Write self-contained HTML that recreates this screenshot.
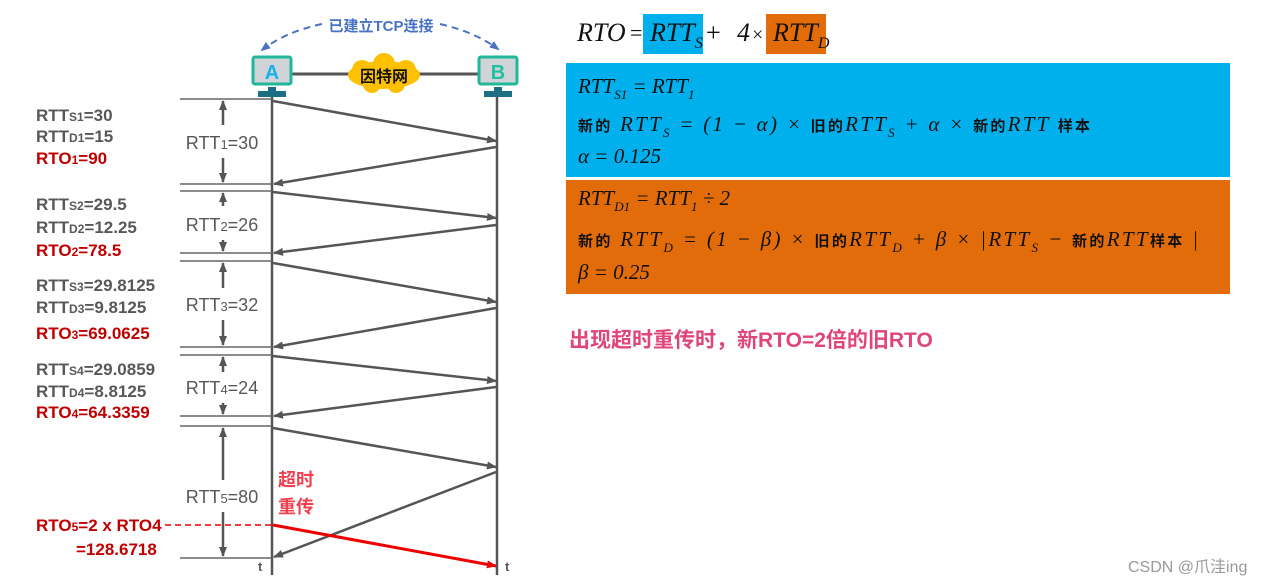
<!DOCTYPE html>
<html><head><meta charset="utf-8"><style>
html,body{margin:0;padding:0;background:#fff;width:1282px;height:586px;overflow:hidden}
svg{display:block}
.l{font-family:"Liberation Sans","Noto Sans CJK SC",sans-serif;font-weight:bold;font-size:17px;fill:#585858}
.r{fill:#c00000}
.m{font-family:"Liberation Sans",sans-serif;font-size:18px;fill:#585858}
.f{font-family:"Liberation Serif",serif;font-style:italic;fill:#111}
.c{font-family:"Liberation Sans","Noto Sans CJK SC",sans-serif;font-weight:bold;fill:#111}
</style></head><body>
<svg width="1282" height="586" viewBox="0 0 1282 586" xmlns="http://www.w3.org/2000/svg">
<defs>
<marker id="ah" markerWidth="10" markerHeight="8" refX="9" refY="4" orient="auto" markerUnits="userSpaceOnUse"><path d="M0,0 L10,4 L0,8 Z" fill="#555"/></marker>
<marker id="ahr" markerWidth="10" markerHeight="8" refX="9" refY="4" orient="auto" markerUnits="userSpaceOnUse"><path d="M0,0 L10,4 L0,8 Z" fill="#e00"/></marker>
<marker id="ab" markerWidth="10" markerHeight="8" refX="8" refY="4" orient="auto" markerUnits="userSpaceOnUse"><path d="M0,0 L10,4 L0,8 Z" fill="#4a72c4"/></marker>
</defs>
<path d="M322,24 Q285,32 262,50" fill="none" stroke="#4a72c4" stroke-width="2" stroke-dasharray="7,5" marker-end="url(#ab)"/>
<path d="M440,24 Q475,32 498,49" fill="none" stroke="#4a72c4" stroke-width="2" stroke-dasharray="7,5" marker-end="url(#ab)"/>
<text x="381" y="31" text-anchor="middle" style="font-family:'Liberation Sans','Noto Sans CJK SC',sans-serif;font-weight:bold;font-size:15px;fill:#4a72c4">已建立TCP连接</text>
<line x1="292" y1="74" x2="478" y2="74" stroke="#555" stroke-width="3"/>
<ellipse cx="384" cy="75" rx="36" ry="14" fill="#ffc000"/>
<circle cx="362" cy="70" r="10" fill="#ffc000"/><circle cx="384" cy="64" r="11" fill="#ffc000"/><circle cx="406" cy="70" r="10" fill="#ffc000"/><circle cx="372" cy="84" r="9" fill="#ffc000"/><circle cx="396" cy="84" r="9" fill="#ffc000"/>
<text x="384" y="82" text-anchor="middle" class="c" style="font-size:16px">因特网</text>
<rect x="253" y="57" width="38" height="27" fill="#d0d4d8" stroke="#20b89a" stroke-width="3" rx="2"/>
<text x="272" y="79" text-anchor="middle" style="font-family:'Liberation Sans',sans-serif;font-weight:bold;font-size:20px;fill:#1ab0f0">A</text>
<rect x="479" y="57" width="38" height="27" fill="#d0d4d8" stroke="#20b89a" stroke-width="3" rx="2"/>
<text x="498" y="79" text-anchor="middle" style="font-family:'Liberation Sans',sans-serif;font-weight:bold;font-size:20px;fill:#20c0a0">B</text>
<rect x="268" y="87" width="8" height="5" fill="#1e6e84"/><rect x="258" y="91" width="28" height="6" fill="#1e6e84"/>
<rect x="494" y="87" width="8" height="5" fill="#1e6e84"/><rect x="484" y="91" width="28" height="6" fill="#1e6e84"/>
<g stroke="#555" stroke-width="2.5">
<line x1="272" y1="97" x2="272" y2="575"/>
<line x1="497" y1="97" x2="497" y2="575"/>
</g>
<text x="258" y="571" class="m" style="font-size:13px;font-weight:bold">t</text>
<text x="505" y="571" class="m" style="font-size:13px;font-weight:bold">t</text>
<g stroke="#666" stroke-width="1.5">
<line x1="180" y1="99" x2="272" y2="99"/>
<line x1="180" y1="184" x2="272" y2="184"/><line x1="180" y1="191" x2="272" y2="191"/>
<line x1="180" y1="253" x2="272" y2="253"/><line x1="180" y1="261" x2="272" y2="261"/>
<line x1="180" y1="347" x2="272" y2="347"/><line x1="180" y1="355" x2="272" y2="355"/>
<line x1="180" y1="416" x2="272" y2="416"/><line x1="180" y1="426" x2="272" y2="426"/>
<line x1="180" y1="558" x2="272" y2="558"/>
</g>
<g stroke="#555" stroke-width="2.5" marker-end="url(#ah)">
<line x1="273" y1="101" x2="496" y2="141"/>
<line x1="496" y1="147" x2="274" y2="184"/>
<line x1="273" y1="192" x2="496" y2="218"/>
<line x1="496" y1="225" x2="274" y2="253"/>
<line x1="273" y1="263" x2="496" y2="302"/>
<line x1="496" y1="308" x2="274" y2="347"/>
<line x1="273" y1="356" x2="496" y2="381"/>
<line x1="496" y1="387" x2="274" y2="416"/>
<line x1="273" y1="428" x2="496" y2="467"/>
<line x1="496" y1="472" x2="274" y2="557"/>
</g>
<line x1="165" y1="525" x2="272" y2="525" stroke="#e00" stroke-width="1.5" stroke-dasharray="6,4"/>
<line x1="273" y1="525" x2="496" y2="566" stroke="#e00" stroke-width="3" marker-end="url(#ahr)"/>
<g stroke="#555" stroke-width="2.5" marker-end="url(#ah)">
<line x1="223" y1="125" x2="223" y2="101"/><line x1="223" y1="158" x2="223" y2="182"/>
<line x1="223" y1="206" x2="223" y2="193"/><line x1="223" y1="240" x2="223" y2="251"/>
<line x1="223" y1="288" x2="223" y2="263"/><line x1="223" y1="320" x2="223" y2="345"/>
<line x1="223" y1="372" x2="223" y2="357"/><line x1="223" y1="403" x2="223" y2="414"/>
<line x1="223" y1="480" x2="223" y2="428"/><line x1="223" y1="512" x2="223" y2="556"/>
</g>
<g class="m" text-anchor="middle">
<text x="222" y="149">RTT<tspan font-size="13">1</tspan>=30</text>
<text x="222" y="231">RTT<tspan font-size="13">2</tspan>=26</text>
<text x="222" y="311">RTT<tspan font-size="13">3</tspan>=32</text>
<text x="222" y="394">RTT<tspan font-size="13">4</tspan>=24</text>
<text x="222" y="503">RTT<tspan font-size="13">5</tspan>=80</text>
</g>
<text x="278" y="486" class="l" style="fill:#f04050;font-size:18px">超时</text>
<text x="278" y="513" class="l" style="fill:#f04050;font-size:18px">重传</text>
<g class="l">
<text x="36" y="121">RTT<tspan font-size="12">S1</tspan>=30</text>
<text x="36" y="142">RTT<tspan font-size="12">D1</tspan>=15</text>
<text x="36" y="164" class="r">RTO<tspan font-size="12">1</tspan>=90</text>
<text x="36" y="210">RTT<tspan font-size="12">S2</tspan>=29.5</text>
<text x="36" y="233">RTT<tspan font-size="12">D2</tspan>=12.25</text>
<text x="36" y="256" class="r">RTO<tspan font-size="12">2</tspan>=78.5</text>
<text x="36" y="291">RTT<tspan font-size="12">S3</tspan>=29.8125</text>
<text x="36" y="313">RTT<tspan font-size="12">D3</tspan>=9.8125</text>
<text x="36" y="339" class="r">RTO<tspan font-size="12">3</tspan>=69.0625</text>
<text x="36" y="375">RTT<tspan font-size="12">S4</tspan>=29.0859</text>
<text x="36" y="397">RTT<tspan font-size="12">D4</tspan>=8.8125</text>
<text x="36" y="418" class="r">RTO<tspan font-size="12">4</tspan>=64.3359</text>
<text x="36" y="531" class="r">RTO<tspan font-size="12">5</tspan>=2 x RTO4</text>
<text x="76" y="555" class="r">=128.6718</text>
</g>
<rect x="643" y="14" width="60" height="40" fill="#00b0ec"/>
<rect x="766" y="14" width="60" height="40" fill="#e36c0a"/>
<g class="f" font-size="26">
<text x="577" y="41">RTO</text><text x="630" y="40" font-style="normal" font-size="22">=</text>
<text x="650" y="41">RTT<tspan font-size="16" dy="7">S</tspan></text>
<text x="706" y="41" font-style="normal">+</text><text x="737" y="41">4</text><text x="752" y="41" font-style="normal" font-size="20">×</text>
<text x="773" y="41">RTT<tspan font-size="16" dy="7">D</tspan></text>
</g>
<rect x="566" y="63" width="664" height="114" fill="#00b0ec"/>
<rect x="566" y="180" width="664" height="114" fill="#e36c0a"/>
<g class="f" font-size="21">
<text x="578" y="93">RTT<tspan font-size="13" dy="6">S1</tspan><tspan dy="-6"> = RTT</tspan><tspan font-size="13" dy="6">1</tspan></text>
<text x="578" y="131" textLength="512" lengthAdjust="spacing"><tspan class="c" font-style="normal" font-size="15">新的</tspan> RTT<tspan font-size="13" dy="6">S</tspan><tspan dy="-6"> = (1 − α) × </tspan><tspan class="c" font-style="normal" font-size="15">旧的</tspan>RTT<tspan font-size="13" dy="6">S</tspan><tspan dy="-6">  + α × </tspan><tspan class="c" font-style="normal" font-size="15">新的</tspan>RTT <tspan class="c" font-style="normal" font-size="15">样本</tspan></text>
<text x="578" y="163">α = 0.125</text>
<text x="578" y="205">RTT<tspan font-size="13" dy="6">D1</tspan><tspan dy="-6"> = RTT</tspan><tspan font-size="13" dy="6">1</tspan><tspan dy="-6"> ÷ 2</tspan></text>
<text x="578" y="246" textLength="620" lengthAdjust="spacing"><tspan class="c" font-style="normal" font-size="15">新的</tspan> RTT<tspan font-size="13" dy="6">D</tspan><tspan dy="-6"> = (1 − β) × </tspan><tspan class="c" font-style="normal" font-size="15">旧的</tspan>RTT<tspan font-size="13" dy="6">D</tspan><tspan dy="-6">  + β × |RTT</tspan><tspan font-size="13" dy="6">S</tspan><tspan dy="-6"> − </tspan><tspan class="c" font-style="normal" font-size="15">新的</tspan>RTT<tspan class="c" font-style="normal" font-size="15">样本</tspan> |</text>
<text x="578" y="279">β = 0.25</text>
</g>
<text x="569" y="347" style="font-family:'Liberation Sans','Noto Sans CJK SC',sans-serif;font-weight:bold;font-size:21px;fill:#e0457a">出现超时重传时，新RTO=2倍的旧RTO</text>
<text x="1128" y="572" style="font-family:'Liberation Sans','Noto Sans CJK SC',sans-serif;font-size:16px;fill:#999">CSDN @爪洼ing</text>
</svg>
</body></html>
